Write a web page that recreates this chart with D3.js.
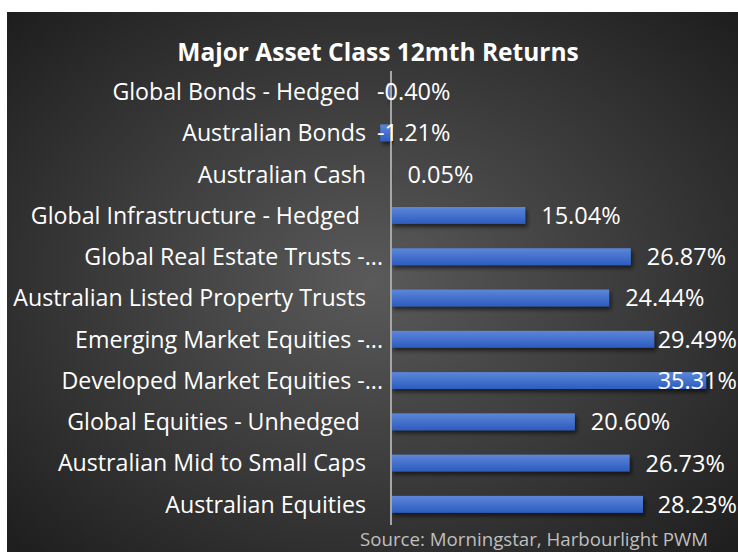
<!DOCTYPE html>
<html>
<head>
<meta charset="utf-8">
<script src="https://cdn.jsdelivr.net/npm/d3@7"></script>
<style>
  body { margin: 0; background: #fff; }
  text { font-family: "Open Sans", sans-serif; white-space: pre; }
</style>
</head>
<body>
<svg id="svgRetornos" width="738" height="552"></svg>
<script>
var categorias = [
    "Global Bonds - Hedged ",
    "Australian Bonds",
    "Australian Cash",
    "Global Infrastructure - Hedged ",
    "Global Real Estate Trusts -...",
    "Australian Listed Property Trusts",
    "Emerging Market Equities -...",
    "Developed Market Equities -...",
    "Global Equities - Unhedged ",
    "Australian Mid to Small Caps",
    "Australian Equities"
];
var retornos = [-0.40, -1.21, 0.05, 15.04, 26.87, 24.44, 29.49, 35.31, 20.60, 26.73, 28.23];
var etiquetas = ["-0.40%", "-1.21%", "0.05%", "15.04%", "26.87%", "24.44%", "29.49%", "35.31%", "20.60%", "26.73%", "28.23%"];

var datos = categorias.map(function(c, i) {
    return { clase: c, retorno: retornos[i], etiqueta: etiquetas[i] };
});

var svg = d3.select("#svgRetornos"),
    width = +svg.attr("width"),
    height = +svg.attr("height");

var defs = svg.append("defs");

var fondo = defs.append("radialGradient")
    .attr("id", "fondo")
    .attr("cx", "50%").attr("cy", "50%").attr("r", "70%");
fondo.append("stop").attr("offset", "0%").attr("stop-color", "#5a5a5a");
fondo.append("stop").attr("offset", "100%").attr("stop-color", "#1e1e1e");

var barra = defs.append("linearGradient")
    .attr("id", "barra")
    .attr("x1", 0).attr("y1", 0).attr("x2", 0).attr("y2", 1);
barra.append("stop").attr("offset", "0%").attr("stop-color", "#5d86d8");
barra.append("stop").attr("offset", "100%").attr("stop-color", "#2c5cc0");

var sombra = defs.append("filter")
    .attr("id", "sombra")
    .attr("x", "-10%").attr("y", "-50%").attr("width", "130%").attr("height", "250%");
sombra.append("feDropShadow")
    .attr("dx", 2).attr("dy", 3).attr("stdDeviation", 2)
    .attr("flood-color", "#000").attr("flood-opacity", 0.6);

// fondo oscuro del grafico
svg.append("rect")
   .attr("x", 7)
   .attr("y", 12)
   .attr("width", width - 7)
   .attr("height", height - 12)
   .attr("fill", "url(#fondo)");

svg.append("text")
   .attr("x", 378)
   .attr("y", 61)
   .attr("text-anchor", "middle")
   .attr("font-size", "24.5px")
   .attr("font-weight", "bold")
   .attr("fill", "#fff")
   .text("Major Asset Class 12mth Returns");

var x = d3.scaleLinear().domain([0, 40]).range([391, 748]);
var y = d3.scaleBand()
    .domain(categorias)
    .range([71, 525])
    .paddingInner(0.59)
    .paddingOuter(0.295);

var g = svg.append("g");

g.selectAll(".bar")
 .data(datos)
 .enter().append("rect")
 .attr("class", "bar")
 .attr("x", function(d) { return Math.min(x(0), x(d.retorno)); })
 .attr("y", function(d) { return y(d.clase); })
 .attr("width", function(d) { return Math.max(1, Math.abs(x(d.retorno) - x(0))); })
 .attr("height", y.bandwidth())
 .attr("fill", "url(#barra)")
 .attr("filter", "url(#sombra)");

// eje vertical en cero
g.append("line")
 .attr("x1", x(0)).attr("x2", x(0))
 .attr("y1", y.range()[0]).attr("y2", y.range()[1])
 .attr("stroke", "#a6a6a6")
 .attr("stroke-width", 2);

// nombres de categorias (las truncadas con "..." se salen un poco hacia el eje)
g.selectAll(".cat")
 .data(datos)
 .enter().append("text")
 .attr("class", "cat")
 .attr("x", function(d) { return /\.\.\.$/.test(d.clase) ? 383 : 366; })
 .attr("y", function(d) { return y(d.clase) + y.bandwidth() / 2; })
 .attr("dy", "0.36em")
 .attr("text-anchor", "end")
 .attr("font-size", "23.2px")
 .attr("fill", "#fff")
 .text(function(d) { return d.clase; });

// valores
var valores = g.selectAll(".val")
 .data(datos)
 .enter().append("text")
 .attr("class", "val")
 .attr("y", function(d) { return y(d.clase) + y.bandwidth() / 2; })
 .attr("dy", "0.36em")
 .attr("font-size", "23.5px")
 .attr("fill", "#fff")
 .text(function(d) { return d.etiqueta; });

valores.attr("x", function(d) {
    var w = this.getComputedTextLength();
    if (d.retorno < 0) return 377;
    return Math.min(x(d.retorno) + 16, width - 1 - w);
});

svg.append("text")
   .attr("x", 708)
   .attr("y", 546)
   .attr("text-anchor", "end")
   .attr("font-size", "18.7px")
   .attr("fill", "#bfbfbf")
   .text("Source: Morningstar, Harbourlight PWM");
</script>
</body>
</html>
